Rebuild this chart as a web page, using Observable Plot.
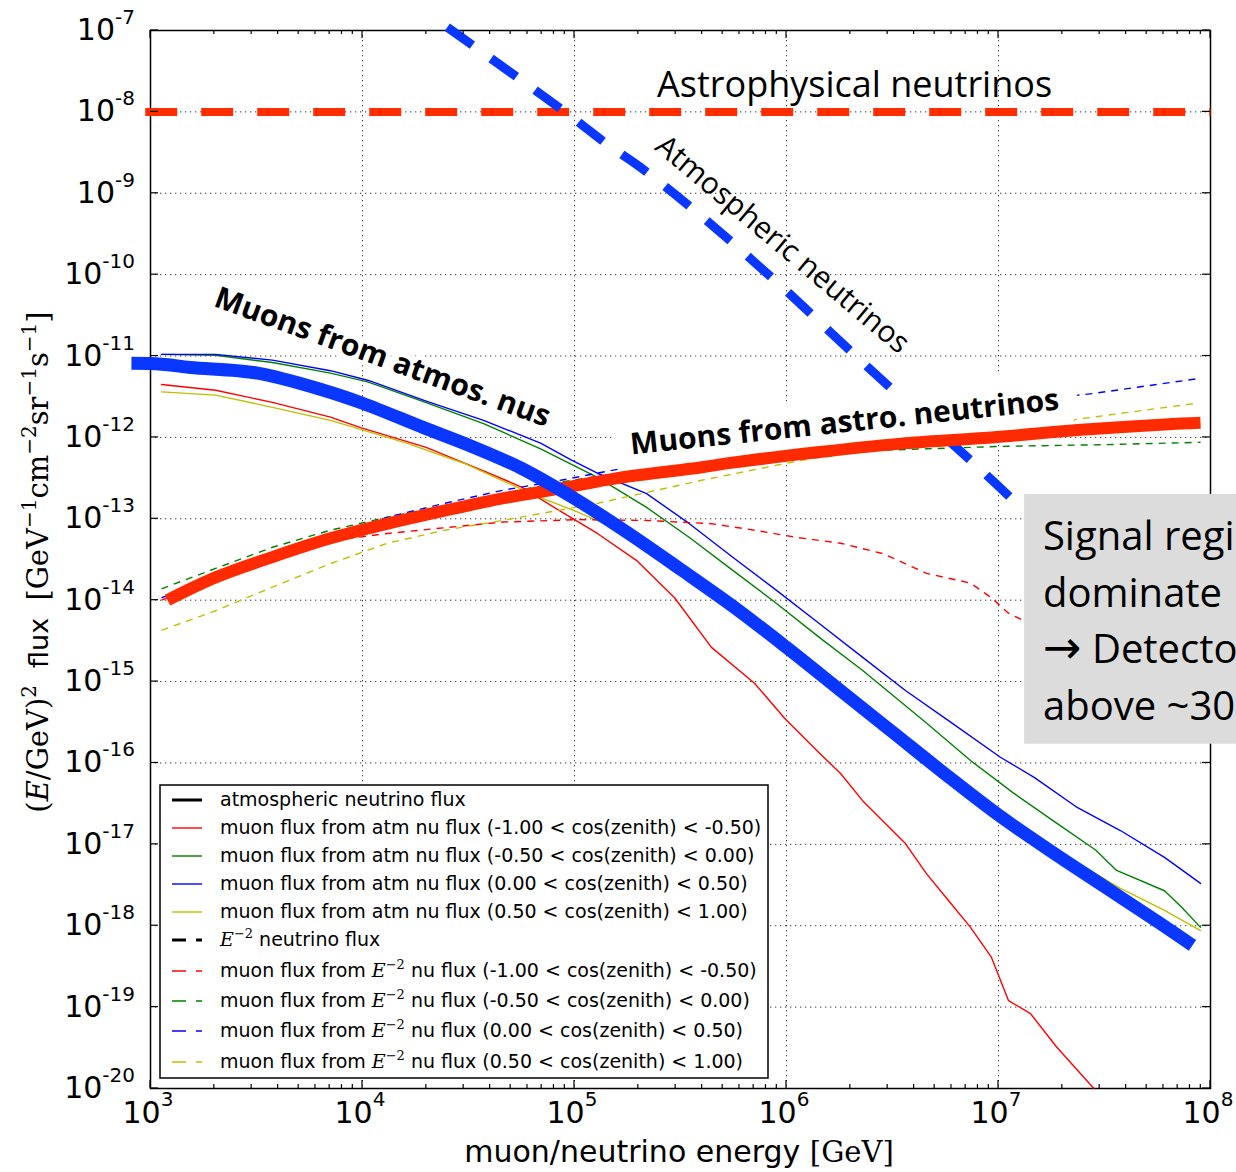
<!DOCTYPE html>
<html>
<head>
<meta charset="utf-8">
<script src="https://cdn.jsdelivr.net/npm/d3@7"></script>
<script src="https://cdn.jsdelivr.net/npm/@observablehq/plot@0.6"></script>
<style>
  html, body { margin: 0; padding: 0; background: #fff; overflow: hidden; }
  #chart svg { display: block; overflow: hidden; }
</style>
</head>
<body>
<div id="chart"></div>
<script>
// ---------- DATA (log10 of energy [GeV], log10 of E^2 flux) ----------
const xTickExp = [3, 4, 5, 6, 7, 8];
const yTickExp = [-20, -19, -18, -17, -16, -15, -14, -13, -12, -11, -10, -9, -8, -7];

// overlay: astrophysical neutrinos (flat E^-2)
const astroNuLogE = [2.975, 8.0];
const astroNuLogF = [-8.0, -8.0];

// overlay: atmospheric neutrinos
const atmNuLogE = [4.40, 4.96, 5.16, 5.31, 5.58, 5.97, 6.36, 6.93, 7.13];
const atmNuLogF = [-6.96, -8.01, -8.41, -8.68, -9.24, -10.13, -11.08, -12.43, -12.92];

// overlay: muons from atmospheric neutrinos (thick blue)
const muAtmLogE = [2.910, 3.052, 3.189, 3.505, 3.816, 4.000, 4.288, 4.524, 4.750, 5.000, 5.250, 5.500, 5.750, 6.000, 6.250, 6.500, 6.750, 7.000, 7.250, 7.500, 7.750, 7.915];
const muAtmLogF = [-11.09, -11.10, -11.14, -11.21, -11.42, -11.58, -11.88, -12.12, -12.38, -12.75, -13.17, -13.62, -14.08, -14.58, -15.10, -15.62, -16.14, -16.64, -17.09, -17.52, -17.95, -18.24];

// overlay: muons from astrophysical neutrinos (thick red)
const muAstroLogE = [3.080, 3.307, 3.575, 3.849, 4.118, 4.387, 4.660, 4.929, 5.203, 5.594, 5.745, 6.156, 6.561, 6.967, 7.373, 7.783, 7.953];
const muAstroLogF = [-14.00, -13.72, -13.47, -13.24, -13.06, -12.90, -12.75, -12.63, -12.50, -12.37, -12.31, -12.18, -12.07, -12.00, -11.91, -11.84, -11.82];

// muon flux from atm nu flux, four zenith bands (solid)
const atmRedLogE = [3.052, 3.307, 3.575, 3.849, 3.991, 4.297, 4.571, 4.750, 4.929, 5.108, 5.292, 5.472, 5.646, 5.849, 5.991, 6.156, 6.255, 6.358, 6.561, 6.660, 6.764, 6.868, 6.967, 7.047, 7.151, 7.274, 7.450];
const atmRedLogF = [-11.35, -11.42, -11.57, -11.75, -11.88, -12.12, -12.41, -12.61, -12.90, -13.18, -13.51, -13.97, -14.58, -15.02, -15.45, -15.88, -16.13, -16.46, -16.99, -17.36, -17.69, -18.02, -18.39, -18.92, -19.08, -19.49, -20.00];

const atmGreenLogE = [3.052, 3.307, 3.575, 3.849, 4.028, 4.297, 4.571, 4.840, 5.108, 5.340, 5.542, 5.745, 5.953, 6.156, 6.358, 6.660, 6.868, 7.071, 7.274, 7.458, 7.557, 7.783, 7.863, 7.953];
const atmGreenLogF = [-10.98, -10.99, -11.08, -11.21, -11.32, -11.57, -11.83, -12.14, -12.49, -12.86, -13.23, -13.63, -14.04, -14.46, -14.86, -15.51, -15.97, -16.37, -16.74, -17.07, -17.32, -17.57, -17.77, -18.02];

const atmBlueLogE = [3.052, 3.307, 3.575, 3.849, 4.028, 4.297, 4.571, 4.840, 4.986, 5.108, 5.340, 5.542, 5.745, 5.953, 6.156, 6.358, 6.561, 6.764, 7.009, 7.170, 7.373, 7.575, 7.783, 7.953];
const atmBlueLogF = [-10.98, -10.98, -11.05, -11.18, -11.30, -11.55, -11.79, -12.07, -12.28, -12.44, -12.69, -13.06, -13.47, -13.88, -14.29, -14.70, -15.11, -15.48, -15.93, -16.18, -16.55, -16.83, -17.16, -17.48];

const atmYellowLogE = [3.052, 3.307, 3.575, 3.849, 4.208, 4.481, 4.660, 4.840, 5.019, 5.292, 5.542, 5.745, 5.953, 6.156, 6.358, 6.561, 6.764, 6.967, 7.170, 7.373, 7.575, 7.783, 7.953];
const atmYellowLogF = [-11.44, -11.48, -11.63, -11.79, -12.07, -12.32, -12.53, -12.74, -12.92, -13.23, -13.72, -14.09, -14.49, -14.92, -15.33, -15.72, -16.13, -16.52, -16.89, -17.23, -17.54, -17.81, -18.06];

// muon flux from E^-2 nu flux, four zenith bands (dashed)
const e2RedLogE = [3.052, 3.307, 3.575, 3.849, 4.118, 4.387, 4.660, 5.019, 5.340, 5.646, 5.849, 6.052, 6.255, 6.458, 6.660, 6.868, 6.967, 7.047, 7.118];
const e2RedLogF = [-14.00, -13.73, -13.49, -13.27, -13.18, -13.11, -13.04, -13.01, -13.02, -13.06, -13.14, -13.23, -13.30, -13.43, -13.67, -13.79, -13.97, -14.16, -14.25];

const e2GreenLogE = [3.052, 3.307, 3.575, 3.849, 4.118, 4.387, 4.660, 4.929, 5.358, 5.830, 6.302, 6.660, 7.009, 7.481, 7.953];
const e2GreenLogF = [-13.86, -13.61, -13.35, -13.14, -12.98, -12.84, -12.69, -12.55, -12.38, -12.26, -12.17, -12.14, -12.11, -12.09, -12.06];

const e2BlueLogE = [3.052, 3.307, 3.575, 3.849, 4.118, 4.387, 4.660, 4.929, 5.165, 5.594, 6.066, 6.538, 7.009, 7.448, 7.934];
const e2BlueLogF = [-13.97, -13.72, -13.47, -13.23, -12.98, -12.81, -12.65, -12.53, -12.41, -12.22, -11.98, -11.77, -11.58, -11.46, -11.28];

const e2YellowLogE = [3.052, 3.307, 3.575, 3.849, 4.118, 4.387, 4.660, 5.108, 5.594, 6.071, 6.561, 7.009, 7.448, 7.934];
const e2YellowLogF = [-14.37, -14.13, -13.84, -13.55, -13.30, -13.14, -13.02, -12.81, -12.53, -12.28, -12.10, -11.91, -11.75, -11.58];

// legend
const legendLabels = [
  "atmospheric neutrino flux",
  "muon flux from atm nu flux (-1.00 < cos(zenith) < -0.50)",
  "muon flux from atm nu flux (-0.50 < cos(zenith) < 0.00)",
  "muon flux from atm nu flux (0.00 < cos(zenith) < 0.50)",
  "muon flux from atm nu flux (0.50 < cos(zenith) < 1.00)",
  "E^-2 neutrino flux",
  "muon flux from E^-2 nu flux (-1.00 < cos(zenith) < -0.50)",
  "muon flux from E^-2 nu flux (-0.50 < cos(zenith) < 0.00)",
  "muon flux from E^-2 nu flux (0.00 < cos(zenith) < 0.50)",
  "muon flux from E^-2 nu flux (0.50 < cos(zenith) < 1.00)"
];
const legendColors = ["#000000", "#ff0000", "#008000", "#0000ff", "#bfbf00", "#000000", "#ff0000", "#008000", "#0000ff", "#bfbf00"];
const legendDashed = [false, false, false, false, false, true, true, true, true, true];

const boxLines = ["Signal regi", "dominate", "\u2192 Detecto", "above ~30"];

// ---------- helpers ----------
const pts = (le, lf) => le.map((e, i) => ({E: 10 ** e, F: 10 ** lf[i]}));
const SANS = "DejaVu Sans";
const ANN = "Open Sans";
const SERIF = "DejaVu Serif";
const thin = 1.4;
const dash = "7,6";

const thinSolid = (le, lf, c) => Plot.line(pts(le, lf), {x: "E", y: "F", stroke: c, strokeWidth: thin});
const thinDash = (le, lf, c) => Plot.line(pts(le, lf), {x: "E", y: "F", stroke: c, strokeWidth: thin, strokeDasharray: dash, strokeLinecap: "butt"});
const note = (t, le, lf, o) => Plot.text([t], {x: () => 10 ** le, y: () => 10 ** lf, text: d => d, ...o});

const plot = Plot.plot({
  width: 1236,
  height: 1172,
  marginLeft: 150,
  marginRight: 26,
  marginTop: 30,
  marginBottom: 84,
  x: {type: "log", domain: [1e3, 1e8], axis: null},
  y: {type: "log", domain: [1e-20, 1e-7], axis: null},
  style: {background: "white", fontFamily: SANS},
  marks: [
    Plot.ruleX(xTickExp.slice(1, -1).map(e => 10 ** e), {stroke: "#333", strokeWidth: 1, strokeDasharray: "1.3,3.7"}),
    Plot.ruleY(yTickExp.slice(1, -1).map(e => 10 ** e), {stroke: "#333", strokeWidth: 1, strokeDasharray: "1.3,3.7"}),
    Plot.frame({stroke: "black", strokeWidth: 1.5}),

    thinSolid(atmRedLogE, atmRedLogF, "#ff0000"),
    thinSolid(atmGreenLogE, atmGreenLogF, "#008000"),
    thinSolid(atmBlueLogE, atmBlueLogF, "#0000ff"),
    thinSolid(atmYellowLogE, atmYellowLogF, "#bfbf00"),
    thinDash(e2RedLogE, e2RedLogF, "#ff0000"),
    thinDash(e2GreenLogE, e2GreenLogF, "#008000"),
    thinDash(e2BlueLogE, e2BlueLogF, "#0000ff"),
    thinDash(e2YellowLogE, e2YellowLogF, "#bfbf00"),

    Plot.line(pts(astroNuLogE, astroNuLogF), {x: "E", y: "F", stroke: "#ff2d00", strokeWidth: 8, strokeDasharray: "32,24", strokeLinecap: "butt"}),
    Plot.line(pts(atmNuLogE, atmNuLogF), {x: "E", y: "F", stroke: "#0a37ff", strokeWidth: 9, strokeDasharray: "31,23", strokeLinecap: "butt", curve: "catmull-rom"}),

    // white text-box halos
    note("Muons from astro. neutrinos", 6.274, -11.816, {rotate: -6, fontSize: 30, fontWeight: "bold", fontFamily: ANN, fill: "white", stroke: "white", strokeWidth: 40, strokeLinejoin: "round"}),
    note("Muons from atmos. nus", 4.094, -11.017, {rotate: 20, fontSize: 30, fontWeight: "bold", fontFamily: ANN, fill: "white", stroke: "white", strokeWidth: 10, strokeLinejoin: "round"}),

    Plot.line(pts(muAstroLogE, muAstroLogF), {x: "E", y: "F", stroke: "#ff2a00", strokeWidth: 12, strokeLinecap: "butt", curve: "catmull-rom"}),
    Plot.line(pts(muAtmLogE, muAtmLogF), {x: "E", y: "F", stroke: "#0a37ff", strokeWidth: 13, strokeLinecap: "butt", curve: "catmull-rom"}),

    note("Muons from astro. neutrinos", 6.274, -11.816, {rotate: -6, fontSize: 30, fontWeight: "bold", fontFamily: ANN, fill: "black"}),
    note("Muons from atmos. nus", 4.094, -11.017, {rotate: 20, fontSize: 30, fontWeight: "bold", fontFamily: ANN, fill: "black"}),
    note("Atmospheric neutrinos", 5.981, -9.629, {rotate: 40, fontSize: 30, fontFamily: ANN, fill: "black"}),
    note("Astrophysical neutrinos", 6.321, -7.670, {fontSize: 36, fontFamily: ANN, fill: "black"}),

    // grey signal box
    Plot.rect([0], {x1: () => 10 ** 7.123, x2: () => 10 ** 8.2, y1: () => 10 ** -12.70, y2: () => 10 ** -15.77, fill: "#dcdcdc"})
  ]
});

document.getElementById("chart").appendChild(plot);

// ---------- ticks, labels, legend (positions from Plot's scales) ----------
const svg = d3.select(plot);
const sx = plot.scale("x"), sy = plot.scale("y");
const X = v => sx.apply(v), Y = v => sy.apply(v);
const L = X(1e3), R = X(1e8), T = Y(1e-7), B = Y(1e-20);

const tg = svg.insert("g", 'g[aria-label="rect"]').attr("stroke", "black").attr("stroke-width", 1.2);
xTickExp.forEach(e => {
  const x = X(10 ** e);
  tg.append("line").attr("x1", x).attr("x2", x).attr("y1", B).attr("y2", B - 8);
  tg.append("line").attr("x1", x).attr("x2", x).attr("y1", T).attr("y2", T + 8);
  if (e < 8) for (let m = 2; m <= 9; m++) {
    const xm = X(m * 10 ** e);
    tg.append("line").attr("x1", xm).attr("x2", xm).attr("y1", B).attr("y2", B - 4);
    tg.append("line").attr("x1", xm).attr("x2", xm).attr("y1", T).attr("y2", T + 4);
  }
});
yTickExp.forEach(e => {
  const y = Y(10 ** e);
  tg.append("line").attr("x1", L).attr("x2", L + 8).attr("y1", y).attr("y2", y);
  tg.append("line").attr("x1", R).attr("x2", R - 8).attr("y1", y).attr("y2", y);
});

// box text
const bx = X(10 ** 7.212), btop = Y(10 ** -12.70);
const bt = svg.append("g").attr("font-family", ANN).attr("font-size", 40).attr("fill", "black").attr("text-anchor", "start");
boxLines.forEach((s, i) => {
  const t = bt.append("text").attr("x", bx).attr("y", btop + 56 + i * 56.7).style("white-space", "pre");
  if (s.startsWith("\u2192")) {
    t.append("tspan").attr("font-family", SANS).attr("font-size", 46).text("\u2192");
    t.append("tspan").text(s.slice(1));
  } else t.text(s);
});

// tick labels
const lab = svg.append("g").attr("font-family", SANS).attr("fill", "black");
xTickExp.forEach(e => {
  const t = lab.append("text").attr("x", X(10 ** e) - 2).attr("y", B + 35).attr("text-anchor", "middle");
  t.append("tspan").attr("font-size", 30).text("10");
  t.append("tspan").attr("font-size", 20).attr("dy", -17).text(String(e));
});
yTickExp.forEach(e => {
  const t = lab.append("text").attr("x", L - 15).attr("y", Y(10 ** e) + 10).attr("text-anchor", "end");
  t.append("tspan").attr("font-size", 30).text("10");
  t.append("tspan").attr("font-size", 20).attr("dy", -16).text(String(e));
});

// axis titles
const xt = svg.append("text").attr("x", (L + R) / 2 - 1).attr("y", 1162).attr("text-anchor", "middle").style("white-space", "pre");
xt.append("tspan").attr("font-family", SANS).attr("font-size", 30).text("muon/neutrino energy ");
xt.append("tspan").attr("font-family", SERIF).attr("font-size", 29).text("[GeV]");

const yt = svg.append("text").attr("transform", `translate(48,${(T + B) / 2 + 3}) rotate(-90)`).attr("text-anchor", "middle")
  .attr("font-family", SERIF).attr("font-size", 29).style("white-space", "pre");
const part = (s, o = {}) => {
  const sp = yt.append("tspan").text(s);
  Object.entries(o).forEach(([k, v]) => sp.attr(k, v));
  return sp;
};
part("(");
part("E", {"font-style": "italic"});
part("/GeV)");
part("2", {"font-size": 20, dy: -12});
part("  flux  ", {"font-family": SANS, "font-size": 27, dy: 12});
part("[GeV");
part("\u22121", {"font-size": 20, dy: -12});
part("cm", {dy: 12});
part("\u22122", {"font-size": 20, dy: -12});
part("sr", {dy: 12});
part("\u22121", {"font-size": 20, dy: -12});
part("s", {dy: 12});
part("\u22121", {"font-size": 20, dy: -12});
part("]", {dy: 12});

// legend
const lg = svg.append("g");
lg.append("rect").attr("x", 160).attr("y", 785).attr("width", 608).attr("height", 293)
  .attr("fill", "white").attr("stroke", "black").attr("stroke-width", 1.5);
const rowY = [800, 828, 856, 884, 912, 940, 971, 1001, 1031, 1062];
legendLabels.forEach((lbl, i) => {
  const y = rowY[i];
  const thick = i === 0 || i === 5;
  lg.append("line").attr("x1", 172).attr("x2", 202).attr("y1", y).attr("y2", y)
    .attr("stroke", legendColors[i]).attr("stroke-width", thick ? 3 : 1.4)
    .attr("stroke-dasharray", legendDashed[i] ? "14,10" : null);
  const t = lg.append("text").attr("x", 220).attr("y", y + 6).attr("text-anchor", "start")
    .attr("font-family", SANS).attr("font-size", 19).style("white-space", "pre");
  const parts = lbl.split("E^-2");
  if (parts.length === 1) {
    t.append("tspan").text(lbl);
  } else {
    t.append("tspan").text(parts[0]);
    t.append("tspan").attr("font-family", SERIF).attr("font-style", "italic").attr("font-size", 19).text("E");
    t.append("tspan").attr("font-family", SERIF).attr("font-size", 13).attr("dy", -8).text("\u22122");
    t.append("tspan").attr("dy", 8).text(parts[1]);
  }
});
</script>
</body>
</html>
